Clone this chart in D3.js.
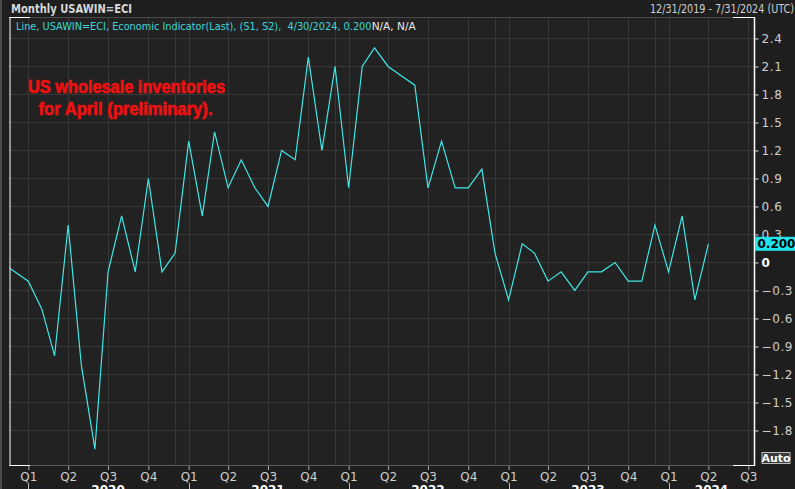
<!DOCTYPE html>
<html><head><meta charset="utf-8">
<script src="https://cdn.jsdelivr.net/npm/d3@7"></script>
<style>
html,body{margin:0;padding:0;background:#1e1e1e;overflow:hidden;}
svg{display:block;}
</style></head>
<body>
<svg id="c" width="795" height="489"></svg>
<script>
// ---- data ----
const months = ["2019-11","2019-12",
 "2020-01","2020-02","2020-03","2020-04","2020-05","2020-06","2020-07","2020-08","2020-09","2020-10","2020-11","2020-12",
 "2021-01","2021-02","2021-03","2021-04","2021-05","2021-06","2021-07","2021-08","2021-09","2021-10","2021-11","2021-12",
 "2022-01","2022-02","2022-03","2022-04","2022-05","2022-06","2022-07","2022-08","2022-09","2022-10","2022-11","2022-12",
 "2023-01","2023-02","2023-03","2023-04","2023-05","2023-06","2023-07","2023-08","2023-09","2023-10","2023-11","2023-12",
 "2024-01","2024-02","2024-03","2024-04"];
const values = [0.0,-0.1,
 -0.2,-0.5,-1.0,0.4,-1.1,-2.0,-0.1,0.5,-0.1,0.9,-0.1,0.1,
 1.3,0.5,1.4,0.8,1.1,0.8,0.6,1.2,1.1,2.2,1.2,2.1,
 0.8,2.1,2.3,2.1,2.0,1.9,0.8,1.3,0.8,0.8,1.0,0.1,
 -0.4,0.2,0.1,-0.2,-0.1,-0.3,-0.1,-0.1,0.0,-0.2,-0.2,0.4,
 -0.1,0.5,-0.4,0.2];
const yTicks = [2.4,2.1,1.8,1.5,1.2,0.9,0.6,0.3,0,-0.3,-0.6,-0.9,-1.2,-1.5,-1.8];
const quarterLabels = ["Q1","Q2","Q3","Q4"];
const years = [2020,2021,2022,2023,2024];
const lastLabel = "0.200";
const title = "Monthly USAWIN=ECI";
const dateRange = "12/31/2019 - 7/31/2024 (UTC)";
const legendMain = "Line, USAWIN=ECI, Economic Indicator(Last), (S1, S2),  4/30/2024, 0.200";
const legendTail = "N/A, N/A";
const note = ["US wholesale inventories","for April (preliminary)."];

// ---- layout ----
const L = 9.5, R = 754.5, T = 17, B = 465;
const svg = d3.select("#c");
const parse = d3.utcParse("%Y-%m");
const data = months.map((m,i)=>({d:parse(m), v:values[i]}));

const x = d3.scaleUtc().domain([Date.UTC(2020,0,1), Date.UTC(2024,6,1)]).range([28.3,748.3]);
const y = d3.scaleLinear().domain([-2.17, 2.63]).range([B, T]);

svg.append("rect").attr("width",795).attr("height",489).attr("fill","#1e1e1e");
svg.append("rect").attr("x",L).attr("y",T).attr("width",R-L).attr("height",B-T).attr("fill","#222222");
svg.append("line").attr("x1",1).attr("x2",1).attr("y1",0).attr("y2",489).attr("stroke","#4a4a4a").attr("stroke-width",2);

// gridlines
const qTicks = d3.utcMonths(Date.UTC(2020,0,1), Date.UTC(2024,6,2), 3);
const decTicks = d3.utcMonths(Date.UTC(2020,11,1), Date.UTC(2023,11,2), 12);
const g = svg.append("g").attr("stroke","#383838").attr("stroke-width",1);
yTicks.forEach(t=>g.append("line").attr("x1",L).attr("x2",R).attr("y1",Math.round(y(t))+0.5).attr("y2",Math.round(y(t))+0.5));
qTicks.concat(decTicks).forEach(t=>g.append("line").attr("y1",T).attr("y2",B).attr("x1",Math.round(x(t))+0.5).attr("x2",Math.round(x(t))+0.5));

// clip + line
svg.append("clipPath").attr("id","pc").append("rect").attr("x",L).attr("y",T).attr("width",R-L).attr("height",B-T);
svg.append("path").datum(data).attr("clip-path","url(#pc)")
  .attr("fill","none").attr("stroke","#3fe6e6").attr("stroke-width",1.2)
  .attr("d", d3.line().x(d=>x(d.d)).y(d=>y(d.v)));

// frame
const fr = svg.append("g");
fr.append("line").attr("x1",L).attr("x2",R).attr("y1",T+0.5).attr("y2",T+0.5).attr("stroke","#4a4a4a");
fr.append("line").attr("x1",L).attr("x2",R).attr("y1",B+0.5).attr("y2",B+0.5).attr("stroke","#5a5a5a");
[[L,30],[733,R]].forEach(([a,b])=>{
  fr.append("line").attr("x1",a).attr("x2",b).attr("y1",T+0.5).attr("y2",T+0.5).attr("stroke","#fff");
  fr.append("line").attr("x1",a).attr("x2",b).attr("y1",B+0.5).attr("y2",B+0.5).attr("stroke","#fff");
});
fr.append("line").attr("x1",L+0.5).attr("x2",L+0.5).attr("y1",T).attr("y2",B+1).attr("stroke","#fff");
fr.append("line").attr("x1",R).attr("x2",R).attr("y1",T).attr("y2",B+1).attr("stroke","#fff").attr("stroke-width",1.5);

// right axis
const ya = svg.append("g").attr("transform",`translate(${R},0)`)
  .call(d3.axisRight(y).tickValues(yTicks).tickSize(4).tickPadding(3).tickFormat(d=>d===0?"0":d3.format(".1f")(d)));
ya.select(".domain").remove();
ya.selectAll(".tick line").attr("stroke","#ddd");
ya.selectAll(".tick text").attr("fill",d=>d===0?"#fff":"#cfcfcf").attr("font-weight",d=>d===0?"bold":"normal")
  .attr("font-family","DejaVu Sans").attr("font-size","12px").attr("letter-spacing","0.6px");

// last value label
const ly = y(values[values.length-1]);
svg.append("rect").attr("x",R+0.5).attr("y",ly-7).attr("width",795-R).attr("height",14).attr("fill","#1fe4ee");
svg.append("text").attr("x",R+3).attr("y",ly+4.5).text(lastLabel).attr("fill","#000").attr("font-weight","bold")
  .attr("font-family","DejaVu Sans").attr("font-size","12px");

// Auto box
svg.append("rect").attr("x",762).attr("y",452.5).attr("width",28).attr("height",11).attr("fill","#3a3a3a").attr("stroke","#bbb");
svg.append("text").attr("x",776).attr("y",462).attr("text-anchor","middle").text("Auto").attr("fill","#fff").attr("font-weight","bold")
  .attr("font-family","DejaVu Sans").attr("font-size","11px");

// bottom axis
const xa = svg.append("g").attr("transform",`translate(0,${B+1})`)
  .call(d3.axisBottom(x).tickValues(qTicks).tickSize(4).tickPadding(2).tickFormat(d=>quarterLabels[d.getUTCMonth()/3]));
xa.select(".domain").remove();
xa.selectAll(".tick line").attr("stroke","#aaa");
xa.selectAll(".tick text").attr("fill","#cfcfcf").attr("font-family","DejaVu Sans").attr("font-size","12px");
// year separators and labels
years.forEach(yr=>{
  const xs = x(new Date(Date.UTC(yr,0,1)));
  svg.append("line").attr("x1",Math.round(xs)+0.5).attr("x2",Math.round(xs)+0.5).attr("y1",483).attr("y2",489).attr("stroke","#bbb");
  let xm = x(new Date(Date.UTC(yr,6,1)));
  if (xm > R - 20) xm = (xs + R)/2;
  svg.append("text").attr("x",xm).attr("y",494).attr("text-anchor","middle").text(yr)
    .attr("fill","#fff").attr("font-weight","bold").attr("font-family","DejaVu Sans").attr("font-size","12px");
});

// header
svg.append("text").attr("x",11).attr("y",13).text(title).attr("fill","#d8d8d8").attr("font-weight","bold")
  .attr("font-family","DejaVu Sans").attr("font-size","12px").attr("textLength",121).attr("lengthAdjust","spacingAndGlyphs");
svg.append("text").attr("x",794).attr("y",13).attr("text-anchor","end").text(dateRange).attr("fill","#cfcfcf")
  .attr("font-family","DejaVu Sans").attr("font-size","12px").attr("textLength",144).attr("lengthAdjust","spacingAndGlyphs");

// legend
svg.append("text").attr("x",16).attr("y",29.5).text(legendMain).attr("fill","#3cd6d6")
  .attr("font-family","DejaVu Sans").attr("font-size","11px").attr("textLength",355.5).attr("lengthAdjust","spacingAndGlyphs").attr("xml:space","preserve");
svg.append("text").attr("x",371.7).attr("y",29.5).text(legendTail).attr("fill","#e8e8e8")
  .attr("font-family","DejaVu Sans").attr("font-size","11px").attr("textLength",44).attr("lengthAdjust","spacingAndGlyphs");

// annotation
const nt = svg.append("g").attr("fill","#ee1111").attr("stroke","#ee1111").attr("stroke-width",0.7)
  .attr("font-family","'Liberation Sans Narrow', 'Liberation Sans', sans-serif")
  .attr("font-weight","bold").attr("font-size","19px");
nt.append("text").attr("x",28).attr("y",92.5).text(note[0]).attr("textLength",197).attr("lengthAdjust","spacingAndGlyphs");
nt.append("text").attr("x",38.5).attr("y",115).text(note[1]).attr("textLength",174).attr("lengthAdjust","spacingAndGlyphs");
</script>
</body></html>
